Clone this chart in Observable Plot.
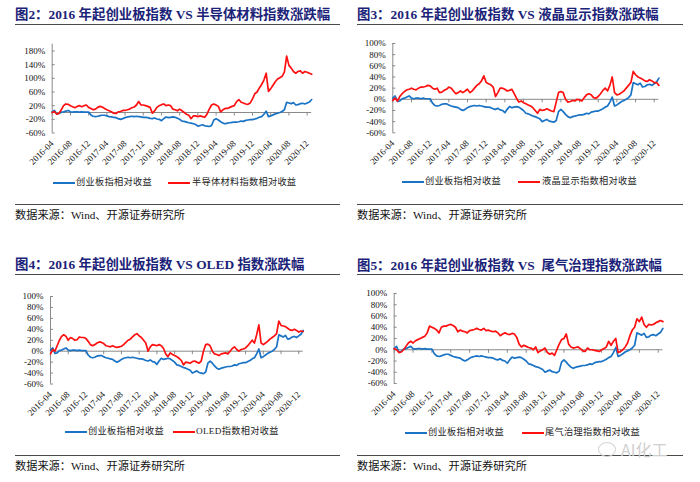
<!DOCTYPE html>
<html><head><meta charset="utf-8">
<script src="https://cdn.jsdelivr.net/npm/d3@7"></script>
<script src="https://cdn.jsdelivr.net/npm/@observablehq/plot@0.6"></script>
<style>
html,body{margin:0;padding:0;background:#fff;}
body{width:700px;height:482px;position:relative;overflow:hidden;font-family:"Liberation Serif","Noto Sans CJK SC",serif;}
.title{position:absolute;font-weight:bold;font-size:13.4px;line-height:1;color:#1b2378;white-space:nowrap;font-family:"Liberation Serif","Noto Sans CJK SC",serif;}
.rule{position:absolute;height:0;border-top:1.3px solid #4a4a4a;}
.src{position:absolute;font-size:11.2px;line-height:1;color:#111;white-space:nowrap;}
.legtxt{position:absolute;font-size:9.2px;line-height:1;color:#222;white-space:nowrap;letter-spacing:0.3px;}
.legline{position:absolute;height:2px;}
.wm{position:absolute;font-size:16px;line-height:1;color:#cfcfcf;font-family:"Noto Sans CJK SC",sans-serif;}
.wmc{position:absolute;width:16px;height:13px;border:1.2px solid #d4d4d4;border-radius:50%;}
</style>
</head><body>
<script>
// ---- data (semi-monthly samples from 2016-04 to 2021-01) ----
const xTickLabels = ["2016-04","2016-08","2016-12","2017-04","2017-08","2017-12","2018-04","2018-08","2018-12","2019-04","2019-08","2019-12","2020-04","2020-08","2020-12"];

const chinextValues = [
  2,6,-4,-3,1,2,4,6,2,1,
  2,2,1,2,1,1,1,-7,-11,-12,
  -11,-9,-8,-8,-10,-12,-13,-14,-15,-18,
  -20,-18,-15,-13,-12,-11,-12,-11,-12,-13,
  -14,-14,-15,-17,-18,-16,-19,-20,-24,-18,
  -13,-15,-14,-13,-14,-17,-20,-25,-26,-28,
  -30,-31,-33,-35,-40,-38,-36,-39,-40,-41,
  -38,-22,-18,-22,-27,-31,-33,-31,-30,-29,
  -28,-28,-27,-25,-26,-23,-22,-21,-21,-19,
  -17,-14,-12,-5,4,-12,-10,-7,-4,-2,
  0,3,8,30,28,26,29,22,23,26,
  27,25,28,31,38
];
const semiconductorValues = [
  0,3,-5,-2,8,20,25,24,20,17,
  14,18,20,17,20,22,15,12,8,10,
  15,18,16,12,8,5,2,-2,-3,2,
  3,6,6,8,10,14,16,22,32,22,
  22,20,18,15,-2,5,15,20,23,25,
  20,22,20,10,8,5,10,5,0,-5,
  -8,-18,-10,-10,-12,-10,-12,-14,-5,10,
  22,25,22,18,2,8,12,12,15,18,
  20,32,38,30,28,25,24,28,40,55,
  60,72,82,95,115,62,70,80,90,98,
  102,106,118,165,138,130,120,115,120,122,
  115,120,118,115,112
];
const lcdValues = [
  -2,2,-3,5,10,14,17,18,20,18,
  17,20,22,22,23,25,24,20,18,20,
  12,13,16,18,22,20,15,10,12,15,
  12,15,18,12,15,20,25,28,33,42,
  30,28,26,22,5,12,20,20,18,15,
  16,18,10,2,-5,-3,-6,-8,-10,-12,
  -15,-20,-25,-18,-20,-19,-17,-19,-21,-22,
  -5,12,14,12,0,-5,-4,-2,-3,0,
  -1,-3,3,8,10,8,3,2,5,10,
  16,20,15,25,40,12,8,9,12,15,
  20,25,30,50,44,40,38,36,33,32,
  35,33,30,30,25
];
const oledValues = [
  -5,3,0,10,20,27,30,27,20,25,
  23,20,21,26,25,25,23,18,12,10,
  12,15,17,16,14,10,9,8,10,8,
  7,8,9,12,16,20,22,26,30,32,
  28,25,20,15,0,8,12,11,10,12,
  10,5,-5,-10,-3,-6,-8,-10,-13,-17,
  -25,-20,-21,-22,-19,-18,-20,-22,-18,0,
  12,13,10,0,-5,-6,-8,-5,-4,-3,
  -5,0,5,8,3,0,3,4,6,10,
  15,20,15,30,48,15,12,15,18,22,
  25,28,32,55,47,46,45,42,39,38,
  40,38,35,37,36
];
const exhaustValues = [
  2,0,-5,-4,0,6,12,15,12,16,
  18,20,22,24,30,42,40,38,35,30,
  40,42,42,44,45,43,40,32,35,33,
  32,30,34,35,36,38,36,35,38,34,
  35,33,32,33,30,25,28,30,28,27,
  29,28,22,10,5,8,6,4,3,0,
  5,-5,-2,0,3,-5,-8,-6,-10,0,
  10,18,20,28,10,5,3,4,5,2,
  -2,-3,3,0,0,-1,-2,-3,0,2,
  5,15,8,15,20,-5,-3,0,5,12,
  25,35,40,55,50,58,45,40,45,44,
  45,48,50,52,50
];
const yTicksWide = [-60,-20,20,60,100,140,180];
const yTicksNarrow = [-60,-40,-20,0,20,40,60,80,100];
const blueName = "创业板指相对收益";
const titles = [
  "图2：2016 年起创业板指数 VS 半导体材料指数涨跌幅",
  "图3：2016 年起创业板指数 VS 液晶显示指数涨跌幅",
  "图4：2016 年起创业板指数 VS OLED 指数涨跌幅",
  "图5：2016 年起创业板指数 VS \u00a0尾气治理指数涨跌幅"
];
const redNames = ["半导体材料指数相对收益","液晶显示指数相对收益","OLED指数相对收益","尾气治理指数相对收益"];
const sourceText = "数据来源：Wind、开源证券研究所";

// ---- layout ----
const BLUE = "#1a73c4", RED = "#ff1010", GRID = "#8a8a8a";
const panels = [
  {left:0, top:30, red:semiconductorValues, yDomain:[-60,200], yTicks:yTicksWide, mt:13.7, mb:37.5, ml:51.7, mr:38.8,
   tx:15, ty:8, rx:15, rw:325, r1:24, r2:204, ly:183, bl:53, bt:76, rl:168, rt:192, sy:210},
  {left:350, top:30, red:lcdValues, yDomain:[-60,100], yTicks:yTicksNarrow, mt:13, mb:37.7, ml:42.3, mr:41.6,
   tx:357, ty:8, rx:357, rw:326, r1:24, r2:204, ly:182, bl:402, bt:425, rl:518, rt:542, sy:210},
  {left:0, top:280, red:oledValues, yDomain:[-60,100], yTicks:yTicksNarrow, mt:16, mb:36.5, ml:50, mr:47.3,
   tx:15, ty:258, rx:15, rw:325, r1:274, r2:455, ly:431.5, bl:65, bt:88, rl:173, rt:196, sy:461},
  {left:350, top:280, red:exhaustValues, yDomain:[-60,100], yTicks:yTicksNarrow, mt:13, mb:37, ml:43.7, mr:37.6,
   tx:357, ty:259, rx:357, rw:326, r1:274, r2:455, ly:433, bl:405, bt:428, rl:522, rt:545, sy:461}
];

function el(cls, style, text){
  const d = document.createElement("div");
  d.className = cls;
  Object.assign(d.style, style);
  if (text != null) d.textContent = text;
  document.body.appendChild(d);
  return d;
}

const xTickIdx = xTickLabels.map((_, i) => i * 4);

panels.forEach((p, k) => {
  const blueRows = chinextValues.map((v, i) => ({m: i / 2, v}));
  const redRows = p.red.map((v, i) => ({m: i / 2, v}));
  const chart = Plot.plot({
    width: 350, height: 140,
    marginTop: p.mt, marginBottom: p.mb, marginLeft: p.ml, marginRight: p.mr,
    x: {domain: [0, 57]},
    y: {domain: p.yDomain},
    style: {fontFamily: "'Liberation Serif', serif", fontSize: "9px", color: "#111", background: "transparent", overflow: "visible"},
    marks: [
      Plot.ruleX([0], {stroke: GRID, strokeWidth: 1}),
      Plot.ruleY(p.yTicks, {y: d => d, x1: 0, x2: 0, insetRight: -3, stroke: GRID}),
      Plot.ruleY([0], {stroke: GRID, strokeWidth: 1}),
      Plot.ruleX(xTickIdx, {x: d => d, y1: 0, y2: 0, insetBottom: -3.5, stroke: GRID}),
      Plot.axisY({ticks: p.yTicks, tickFormat: d => d + "%", tickSize: 0, tickPadding: 7, label: null}),
      Plot.axisX({ticks: xTickIdx, tickFormat: i => xTickLabels[i / 4], tickRotate: -45, tickSize: 0, tickPadding: 9, label: null}),
      Plot.line(blueRows, {x: "m", y: "v", stroke: BLUE, strokeWidth: 1.7}),
      Plot.line(redRows, {x: "m", y: "v", stroke: RED, strokeWidth: 1.7})
    ]
  });
  chart.style.position = "absolute";
  chart.style.left = p.left + "px";
  chart.style.top = p.top + "px";
  document.body.appendChild(chart);

  el("title", {left: p.tx + "px", top: p.ty + "px"}, titles[k]);
  el("rule", {left: p.rx + "px", top: p.r1 + "px", width: p.rw + "px"});
  el("rule", {left: p.rx + "px", top: p.r2 + "px", width: p.rw + "px"});
  el("legline", {left: p.bl + "px", top: (p.ly - 1) + "px", width: "22px", background: BLUE});
  el("legtxt", {left: p.bt + "px", top: (p.ly - 5) + "px"}, blueName);
  el("legline", {left: p.rl + "px", top: (p.ly - 1) + "px", width: "22px", background: RED});
  el("legtxt", {left: p.rt + "px", top: (p.ly - 5) + "px"}, redNames[k]);
  el("src", {left: p.rx + "px", top: p.sy + "px"}, sourceText);
});

// watermark
el("wmc", {left: "598px", top: "442px"});
el("wm", {left: "621px", top: "441px"}, "AI化工");
</script>
</body></html>
